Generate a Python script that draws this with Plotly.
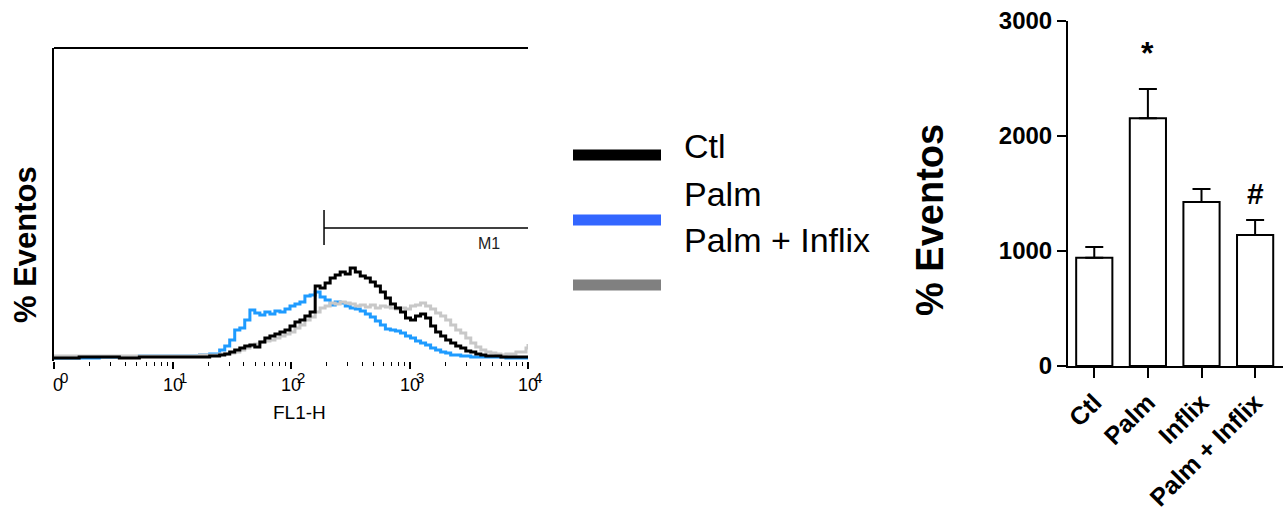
import math
import plotly.graph_objects as go

# ---------------- data ----------------
fl1_h = [1.0, 1.63, 2.41, 3.56, 5.25, 7.76, 11.5, 16.9, 20.6, 25.0, 27.6, 30.4, 33.5, 37.0,
         40.7, 45.0, 49.5, 54.6, 60.2, 66.4, 73.2, 80.7, 89.0, 98.1, 108, 119, 131, 145,
         160, 176, 194, 214, 236, 260, 287, 316, 349, 384, 424, 467, 515, 568, 626, 690,
         761, 839, 925, 1020, 1124, 1240, 1367, 1507, 1661, 1832, 2020, 2226, 2455, 2706,
         2985, 3289, 3626, 3997, 4406, 4858, 5356, 5905, 6510, 7177, 7913, 8723, 9617, 10000]

counts_palm = [0, 0, 1, 1, 2, 2, 2, 3, 4, 8, 12, 18, 28, 30,
               38, 48, 45, 43, 46, 44, 47, 46, 49, 52, 54, 56, 62, 63,
               66, 61, 58, 53, 56, 55, 52, 50, 49, 47, 44, 41, 37, 33, 29, 28,
               27, 25, 22, 20, 17, 15, 13, 10, 8, 6, 5, 3, 3, 2,
               2, 1, 1, 1, 1, 1, 1, 1, 0, 0, 0, 0, 0, 0]

counts_ctl = [0, 1, 1, 0, 1, 1, 1, 1, 2, 3, 4, 6, 8, 10,
              12, 13, 11, 16, 20, 22, 24, 26, 28, 32, 36, 38, 42, 46,
              72, 70, 75, 80, 83, 86, 84, 90, 86, 82, 80, 76, 72, 66, 60, 54,
              50, 46, 40, 38, 42, 44, 40, 32, 26, 22, 18, 15, 12, 10,
              7, 6, 4, 3, 2, 2, 2, 1, 1, 1, 1, 1, 1, 0]

counts_palm_inflix = [2, 2, 2, 2, 2, 2, 2, 3, 3, 4, 4, 5, 6, 8,
                      10, 12, 14, 16, 17, 18, 20, 22, 24, 26, 30, 33, 38, 41,
                      46, 50, 52, 55, 54, 56, 55, 54, 52, 53, 51, 53, 50, 52, 51, 50,
                      49, 50, 49, 52, 53, 55, 52, 49, 45, 42, 38, 33, 28, 25,
                      20, 15, 11, 8, 6, 5, 4, 3, 4, 4, 6, 6, 10, 14]

gate_m1_start = 190
gate_m1_end = 10000
gate_m1_level = 130

decades = [1, 10, 100, 1000, 10000]
decade_base = ["0", "10", "10", "10", "10"]
decade_exp = ["0", "1", "2", "3", "4"]

legend_names = ["Ctl", "Palm", "Palm + Inflix"]

groups = ["Ctl", "Palm", "Inflix", "Palm + Inflix"]
means = [942, 2154, 1426, 1139]
sem = [93, 255, 113, 130]
signif = ["", "*", "", "#"]

# ---------------- figure ----------------
W, H = 1284, 519
def px(x):
    return x / W
def py(y):
    return 1 - y / H

FONT = "Liberation Sans, Arial, Helvetica, sans-serif"
fig = go.Figure()

hist_colors = {"Palm": "#1e9bff", "Palm + Inflix": "#c8c8c8", "Ctl": "#000000"}
for name, cts in [("Palm", counts_palm), ("Palm + Inflix", counts_palm_inflix), ("Ctl", counts_ctl)]:
    fig.add_trace(go.Scatter(x=fl1_h, y=cts, mode="lines", line=dict(color=hist_colors[name], width=3, shape="hv"),
                             xaxis="x", yaxis="y", showlegend=False, name=name))

# M1 gate
fig.add_trace(go.Scatter(x=[gate_m1_start, gate_m1_end], y=[gate_m1_level, gate_m1_level], mode="lines",
                         line=dict(color="black", width=1.5), xaxis="x", yaxis="y", showlegend=False))
fig.add_trace(go.Scatter(x=[gate_m1_start, gate_m1_start], y=[gate_m1_level - 17, gate_m1_level + 18], mode="lines",
                         line=dict(color="black", width=1.5), xaxis="x", yaxis="y", showlegend=False))
fig.add_annotation(x=math.log10(4680), y=gate_m1_level - 16, xref="x", yref="y", text="M1", showarrow=False,
                   xanchor="center", yanchor="middle", font=dict(family=FONT, size=16, color="#222"))

# bars
fig.add_trace(go.Bar(x=groups, y=means, width=0.675, marker=dict(color="white", line=dict(color="black", width=2)),
                     error_y=dict(type="data", array=sem, arrayminus=[0] * len(sem), symmetric=False,
                                  color="black", thickness=2, width=9),
                     xaxis="x2", yaxis="y2", showlegend=False))
for g, m, s, t in zip(groups, means, sem, signif):
    if t:
        fig.add_annotation(x=g, y=m + s, xref="x2", yref="y2", text="<b>" + t + "</b>", showarrow=False,
                           xanchor="center", yanchor="bottom", yshift=16 if t == "*" else 8,
                           font=dict(family=FONT, size=32 if t == "*" else 30, color="black"))

minor_vals = [d * k for d in decades[:-1] for k in range(2, 10)]

fig.update_layout(
    width=W, height=H, margin=dict(l=0, r=0, t=0, b=0, autoexpand=False),
    paper_bgcolor="white", plot_bgcolor="white",
    font=dict(family=FONT, color="black"),
    xaxis=dict(domain=[px(54), px(528)], type="log", range=[0, 4], showline=False, showgrid=False,
               zeroline=False, ticks="outside", ticklen=7, tickwidth=1.5, tickcolor="black",
               tickvals=decades, showticklabels=False, automargin=False,
               minor=dict(tickvals=minor_vals, ticks="outside", ticklen=4, tickwidth=1.2, tickcolor="black",
                          showgrid=False),
               anchor="y"),
    yaxis=dict(domain=[py(361), py(48)], range=[-3, 310], showline=True, linecolor="black", linewidth=2,
               showgrid=False, zeroline=False, showticklabels=False, ticks="", anchor="x", automargin=False),
    xaxis2=dict(domain=[px(1068), px(1283)], range=[-0.49, 3.52], showline=True, linecolor="black",
                linewidth=2, ticks="outside", ticklen=10, tickwidth=2, tickcolor="black", tickangle=-45,
                tickfont=dict(family=FONT, size=25, color="black", weight="bold"), showgrid=False,
                anchor="y2", automargin=False),
    yaxis2=dict(domain=[py(366), py(21)], range=[0, 3000], showline=True, linecolor="black", linewidth=2,
                ticks="outside", ticklen=9, tickwidth=2, tickcolor="black", tickvals=[0, 1000, 2000, 3000],
                tickfont=dict(family=FONT, size=24, color="black", weight="bold"), showgrid=False,
                zeroline=False, anchor="x2", automargin=False),
)

# top frame line of histogram
fig.add_shape(type="line", xref="x domain", yref="y domain", x0=0, x1=1, y0=1, y1=1,
              line=dict(color="black", width=2))

# histogram tick labels (decades with overlapping exponent)
for d, b, e in zip(decades, decade_base, decade_exp):
    xs = 4 if b == "0" else 0
    fig.add_annotation(x=math.log10(d), y=py(385), xref="x", yref="paper", text=b, showarrow=False,
                       xanchor="center", yanchor="middle", xshift=xs,
                       font=dict(family=FONT, size=18, color="black"))
    fig.add_annotation(x=math.log10(d), y=py(377), xref="x", yref="paper", text=e, showarrow=False,
                       xanchor="center", yanchor="middle", xshift=10,
                       font=dict(family=FONT, size=15, color="black"))

fig.add_annotation(x=px(299), y=py(412), xref="paper", yref="paper", text="FL1-H", showarrow=False,
                   xanchor="center", yanchor="middle", font=dict(family=FONT, size=19, color="black"))

# y titles
fig.add_annotation(x=px(25), y=py(245), xref="paper", yref="paper", text="<b>% Eventos</b>", textangle=-90,
                   xanchor="center", yanchor="middle", showarrow=False,
                   font=dict(family=FONT, size=31, color="black"))
fig.add_annotation(x=px(930), y=py(220), xref="paper", yref="paper", text="<b>% Eventos</b>", textangle=-90,
                   xanchor="center", yanchor="middle", showarrow=False,
                   font=dict(family=FONT, size=38, color="black"))

# legend
legend_colors = ["#000000", "#3366ff", "#808080"]
legend_bar_y = [155, 220, 285]
legend_text_y = [146, 194, 240]
for name, c, by, ty in zip(legend_names, legend_colors, legend_bar_y, legend_text_y):
    fig.add_shape(type="rect", xref="paper", yref="paper", x0=px(573), x1=px(661), y0=py(by - 5.5), y1=py(by + 5.5),
                  fillcolor=c, line=dict(width=0))
    fig.add_annotation(x=px(682), y=py(ty), xref="paper", yref="paper", text=name, showarrow=False,
                       xanchor="left", yanchor="middle", font=dict(family=FONT, size=34, color="black"))

fig.write_html("out.html")
